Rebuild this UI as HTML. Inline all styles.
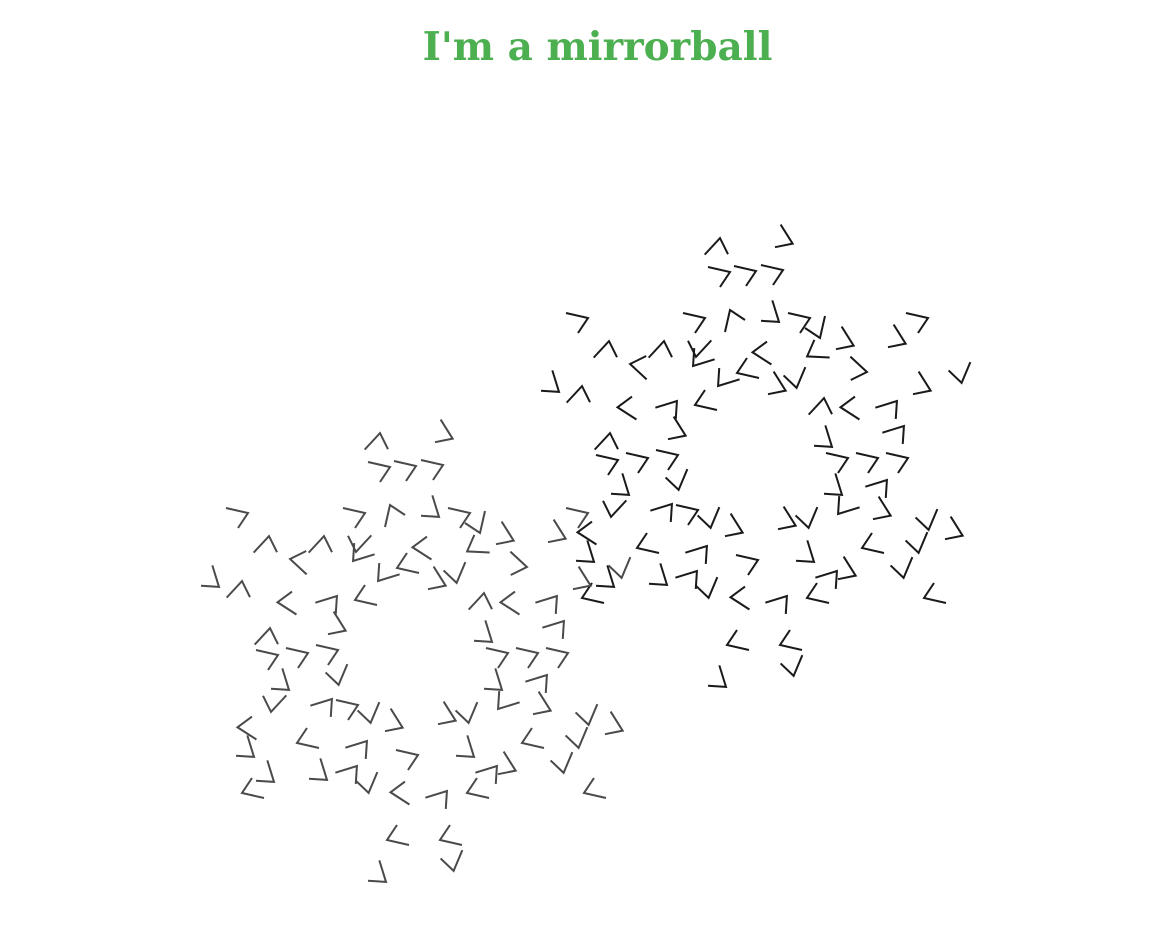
<!DOCTYPE html>
<html><head><meta charset="utf-8"><style>
html,body{margin:0;padding:0;background:#fff;width:1173px;height:928px;overflow:hidden}
h1{position:absolute;left:0;width:1195px;top:24px;margin:0;text-align:center;font:bold 39px "DejaVu Serif","Liberation Serif",serif;color:#4caf50}
svg{position:absolute;left:0;top:0}
</style></head><body>
<h1>I'm a mirrorball</h1>
<svg id="s" width="1173" height="928"></svg>
<script>
const px=[716,787,722,748,775,580,697,730,775,802,920,605,660,700,700,760,815,820,848,900,637,860,555,578,725,745,780,798,925,963,625,670,703,820,848,890,606,680,828,897,610,640,670,840,870,900,625,680,838,880,615,665,690,712,737,790,810,845,885,930,957,585,590,645,700,750,810,870,920,610,663,690,710,738,780,815,830,850,905,590,932,735,788,722,795];
const py=[245,238,272,271,270,318,318,318,315,318,318,348,348,350,362,355,355,330,340,338,368,368,385,393,382,373,385,380,385,375,410,405,405,405,410,405,440,430,440,430,460,458,455,458,458,458,488,482,488,484,510,508,510,520,527,520,520,510,510,522,530,535,555,548,550,560,555,548,545,580,578,575,590,600,600,598,575,570,570,598,598,645,645,680,668];
const ang=[-60,45,0,0,0,0,0,-90,60,0,0,-60,-60,120,150,200,170,90,45,45,210,30,60,-60,150,180,45,100,45,100,200,-30,180,-60,200,-30,-60,45,60,-30,0,0,0,0,0,0,60,100,60,-30,120,-30,0,100,45,45,100,150,45,100,45,200,60,180,-30,0,60,180,100,60,60,-30,100,200,-30,180,-30,45,100,180,180,180,180,60,100];
const clusters=[{dx:0,dy:0,col:"#1a1a1a"},{dx:-340,dy:195,col:"#4a4a4a"}];
const s=document.getElementById('s');
const NS='http://www.w3.org/2000/svg';
clusters.forEach((c,ci)=>{
 for(let i=0;i<px.length;i++){
  const p=document.createElementNS(NS,'polyline');
  p.setAttribute('points','-14,-5 8,0 -2,15');
  p.setAttribute('fill','none');
  p.setAttribute('stroke',c.col);
  p.setAttribute('stroke-width','2');
  p.setAttribute('transform',`translate(${px[i]+c.dx},${py[i]+c.dy}) rotate(${ang[i]})`);
  
  
  s.appendChild(p);
 }
});
</script>
</body></html>
